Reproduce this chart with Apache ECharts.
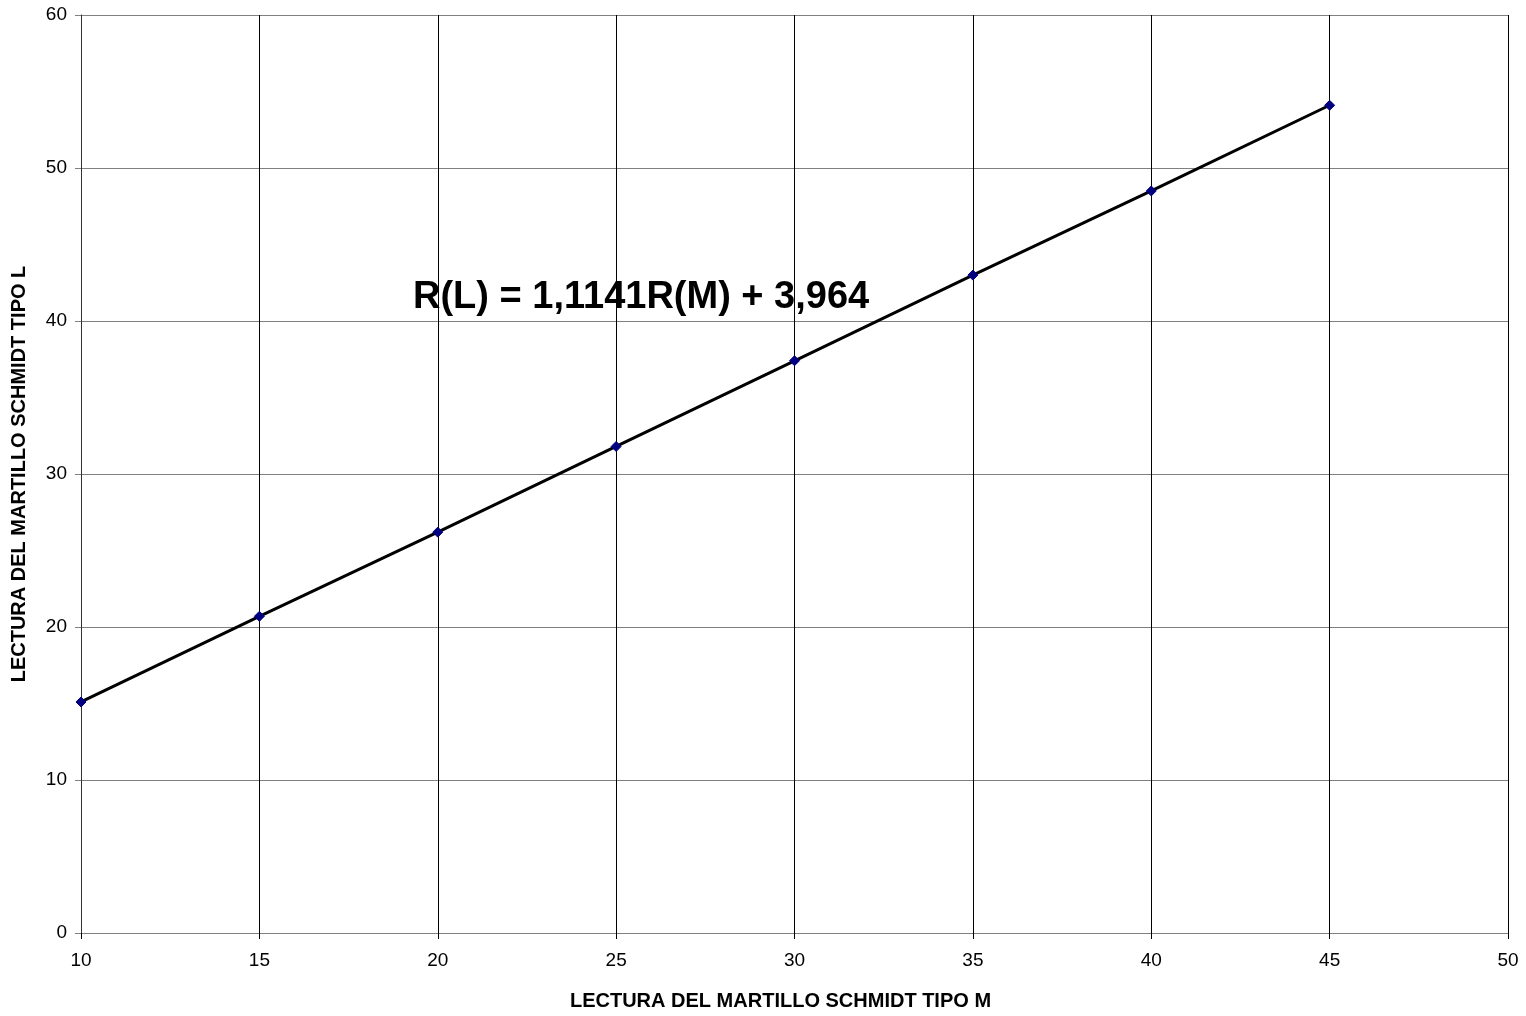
<!DOCTYPE html>
<html>
<head>
<meta charset="utf-8">
<script src="https://cdn.jsdelivr.net/npm/echarts@6/dist/echarts.min.js"></script>
<style>
html,body{margin:0;padding:0;background:#fff;overflow:hidden;}
#chart{width:1526px;height:1016px;}
</style>
</head>
<body>
<div id="chart"></div>
<script>
const xValues = [10, 15, 20, 25, 30, 35, 40, 45];
const yValues = [15.1, 20.7, 26.2, 31.8, 37.4, 43.0, 48.5, 54.1];
const xAxisTitle = 'LECTURA DEL MARTILLO SCHMIDT TIPO M';
const yAxisTitle = 'LECTURA DEL MARTILLO SCHMIDT TIPO L';
const equationText = 'R(L) = 1,1141R(M) + 3,964';

const chart = echarts.init(document.getElementById('chart'), null, {renderer: 'canvas', width: 1526, height: 1016});
const FONT = '"Liberation Sans", Arial, sans-serif';
chart.setOption({
  animation: false,
  backgroundColor: '#fff',
  grid: {left: 81, right: 18, top: 15, bottom: 77, containLabel: false},
  xAxis: {
    type: 'value', min: 10, max: 50, interval: 5,
    name: xAxisTitle, nameLocation: 'middle', nameGap: 58,
    nameTextStyle: {fontFamily: FONT, fontWeight: 'bold', fontSize: 20, color: '#000', padding: [0, 28, 0, 0]},
    axisLine: {show: true, onZero: false, lineStyle: {color: '#808080', width: 1}},
    axisTick: {show: true, length: 6, inside: false, lineStyle: {color: '#000'}},
    axisLabel: {fontFamily: FONT, fontSize: 19, color: '#000', margin: 18},
    splitLine: {show: true, lineStyle: {color: '#000', width: 1}}
  },
  yAxis: {
    type: 'value', min: 0, max: 60, interval: 10,
    name: yAxisTitle, nameLocation: 'middle', nameGap: 52, nameRotate: 90,
    nameTextStyle: {fontFamily: FONT, fontWeight: 'bold', fontSize: 20, color: '#000'},
    axisLine: {show: true, onZero: false, lineStyle: {color: '#333', width: 1}},
    axisTick: {show: true, length: 6, inside: false, lineStyle: {color: '#808080'}},
    axisLabel: {fontFamily: FONT, fontSize: 19, color: '#000', margin: 14},
    splitLine: {show: true, lineStyle: {color: '#808080', width: 1}}
  },
  series: [{
    type: 'line',
    data: xValues.map((x, i) => [x, yValues[i]]),
    symbol: 'diamond', symbolSize: 10,
    itemStyle: {color: '#000080', borderColor: '#000080'},
    lineStyle: {color: '#000', width: 3},
    z: 3
  }],
  graphic: [{
    type: 'text', left: 413, top: 279,
    style: {text: equationText, font: 'bold 38px ' + FONT, fill: '#000'}
  }]
});
</script>
</body>
</html>
